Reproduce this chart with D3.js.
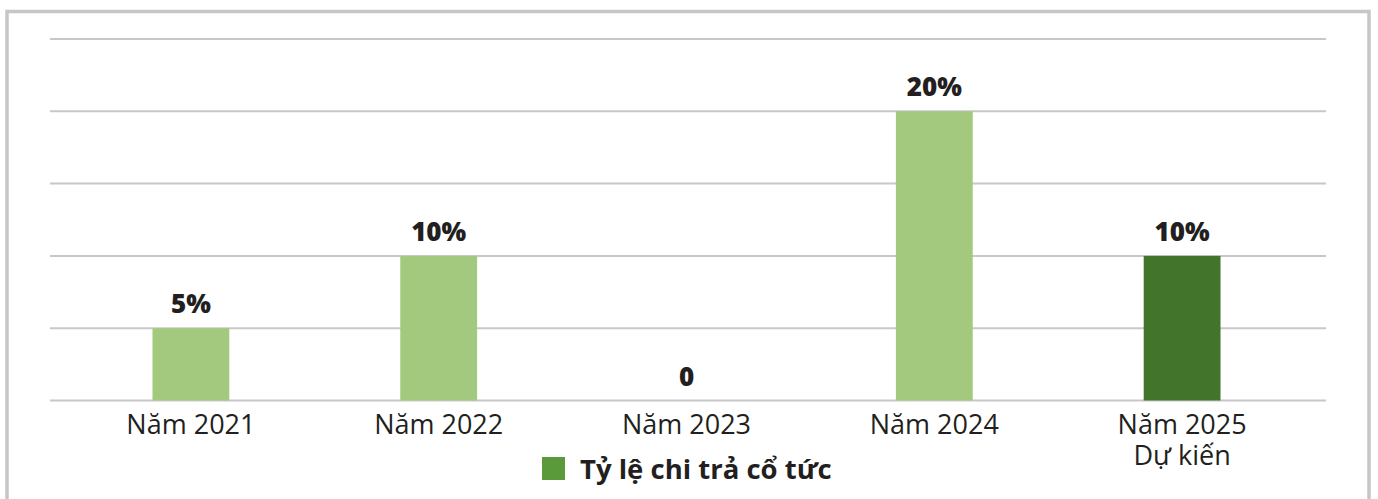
<!DOCTYPE html>
<html>
<head>
<meta charset="utf-8">
<script src="https://cdn.jsdelivr.net/npm/d3@7"></script>
<style>
  html, body { margin: 0; padding: 0; background: #fff; }
  svg { display: block; }
</style>
</head>
<body>
<div id="chart"></div>
<script>
const categories = ['Năm 2021', 'Năm 2022', 'Năm 2023', 'Năm 2024', 'Năm 2025\nDự kiến'];
const payoutRatio = [5, 10, 0, 20, 10];
const valueLabels = ['5%', '10%', '0', '20%', '10%'];
const gridTicks = [0, 5, 10, 15, 20, 25];
const legendLabel = 'Tỷ lệ chi trả cổ tức';

const width = 1378, height = 499;
const font = '"Open Sans", "Liberation Sans", sans-serif';

const svg = d3.select('#chart').append('svg')
  .attr('width', width)
  .attr('height', height);

// outer frame (bottom edge runs off the picture)
svg.append('path')
  .attr('d', `M7,${height + 5} V11.5 H1369 V${height + 5}`)
  .attr('fill', 'none')
  .attr('stroke', '#c6c6c6')
  .attr('stroke-width', 3.5);

const x = d3.scaleBand()
  .domain(categories)
  .range([67, 1306])
  .paddingInner(0.69)
  .paddingOuter(0.345);

const y = d3.scaleLinear()
  .domain([0, 25])
  .range([400.5, 39]);

// gridlines
svg.append('g').selectAll('line')
  .data(gridTicks)
  .join('line')
  .attr('x1', 50)
  .attr('x2', 1326)
  .attr('y1', d => y(d))
  .attr('y2', d => y(d))
  .attr('stroke', '#c8c8c8')
  .attr('stroke-width', 2);

// bars
svg.append('g').selectAll('rect')
  .data(payoutRatio)
  .join('rect')
  .attr('x', (d, i) => x(categories[i]))
  .attr('y', d => y(d))
  .attr('width', x.bandwidth())
  .attr('height', d => y(0) - y(d))
  .attr('fill', (d, i) => i === categories.length - 1 ? '#43742b' : '#a2c97d');

// value labels
svg.append('g').selectAll('text')
  .data(payoutRatio)
  .join('text')
  .attr('x', (d, i) => x(categories[i]) + x.bandwidth() / 2)
  .attr('y', d => y(d) - 15)
  .attr('text-anchor', 'middle')
  .attr('font-family', font)
  .attr('font-weight', 800)
  .attr('font-size', 26)
  .attr('fill', '#231f20')
  .text((d, i) => valueLabels[i]);

// category labels, one text per line
const cat = svg.append('g').selectAll('g')
  .data(categories)
  .join('g')
  .attr('transform', d => `translate(${x(d) + x.bandwidth() / 2},0)`);

cat.selectAll('text')
  .data(d => d.split('\n'))
  .join('text')
  .attr('y', (d, i) => 434 + i * 31)
  .attr('text-anchor', 'middle')
  .attr('font-family', font)
  .attr('font-size', 27)
  .attr('fill', '#231f20')
  .text(d => d);

// legend
const legend = svg.append('g').attr('transform', 'translate(542,457)');
legend.append('rect')
  .attr('width', 23)
  .attr('height', 23)
  .attr('fill', '#5b9a3a');
legend.append('text')
  .attr('x', 38)
  .attr('y', 22)
  .attr('font-family', font)
  .attr('font-weight', 700)
  .attr('font-size', 27.5)
  .attr('fill', '#231f20')
  .text(legendLabel);
</script>
</body>
</html>
